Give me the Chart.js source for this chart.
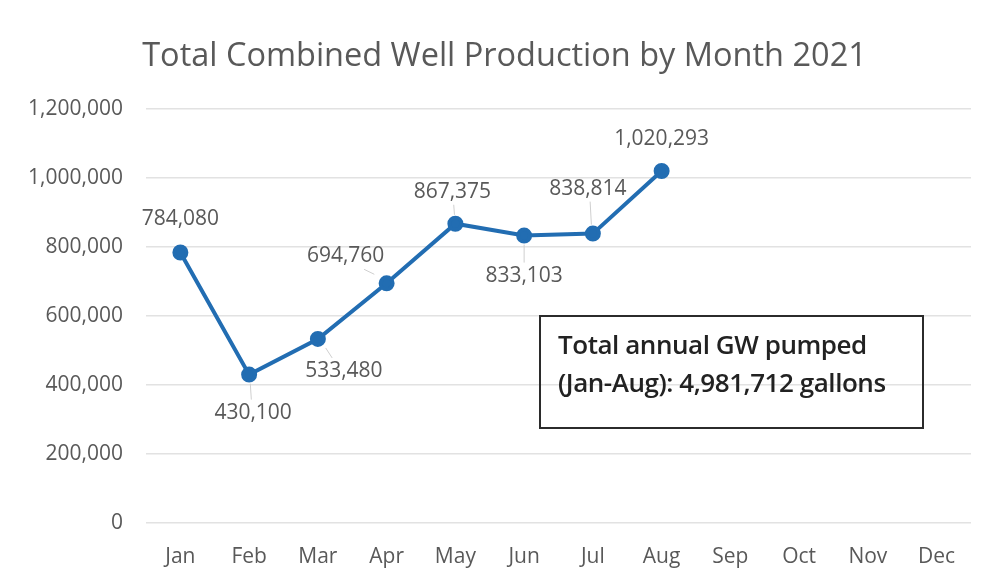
<!DOCTYPE html>
<html><head><meta charset="utf-8">
<script src="https://cdn.jsdelivr.net/npm/chart.js@4.4.0/dist/chart.umd.min.js"></script>
<style>
html,body{margin:0;padding:0;background:#fff;}
#wrap{position:relative;width:990px;height:582px;}
#note{position:absolute;left:539px;top:315px;width:385px;height:114px;border:2px solid #2b2b2b;box-sizing:border-box;
font-family:"Open Sans",sans-serif;font-size:26px;font-weight:600;color:#222;line-height:38px;padding:8px 0 0 17px;letter-spacing:-0.45px;white-space:nowrap;}
</style></head><body>
<div id="wrap"><canvas id="c" width="990" height="582"></canvas>
<div id="note">Total annual GW pumped<br>(Jan-Aug): 4,981,712 gallons</div></div>
<script>
const months = ["Jan","Feb","Mar","Apr","May","Jun","Jul","Aug","Sep","Oct","Nov","Dec"];
const production = [784080,430100,533480,694760,867375,833103,838814,1020293,null,null,null,null];
const yTicks = [0,200000,400000,600000,800000,1000000,1200000];
const titleText = "Total Combined Well Production by Month 2021";
// label offsets (px) relative to each point: style only
const labelOffsets = [[0,-33],[4,38],[26,32],[-41,-27],[-3,-32],[0,40],[-5,-45],[0,-32]];
const leaderLines = [false,true,true,true,true,true,true,false];

const fmt = v => v.toLocaleString("en-US");

const labelPlugin = {
  id:"dl",
  afterLayout(chart){
    // centre the title over the plot region rather than the whole canvas
    if(chart.titleBlock){ chart.titleBlock.left = 38; chart.titleBlock.right = chart.chartArea.right; }
  },
  afterDatasetsDraw(chart){
    const ctx = chart.ctx;
    const meta = chart.getDatasetMeta(0);
    ctx.save();
    ctx.font = '21px "Open Sans", sans-serif';
    ctx.fillStyle = "#595959";
    ctx.textAlign = "center";
    ctx.textBaseline = "middle";
    meta.data.forEach((pt,i)=>{
      const v = production[i];
      if(v==null) return;
      const [dx,dy] = labelOffsets[i];
      const lx = pt.x+dx, ly = pt.y+dy;
      if(leaderLines[i]){
        ctx.strokeStyle = "#cfcfcf"; ctx.lineWidth = 1;
        ctx.beginPath();
        const sy = Math.sign(dy);
        ctx.moveTo(pt.x+dx*0.3, pt.y+sy*9);
        ctx.lineTo(pt.x+dx*0.55, ly - sy*13);
        ctx.stroke();
      }
      ctx.fillText(fmt(v), lx, ly);
    });
    ctx.restore();
  }
};

new Chart(document.getElementById("c"),{
  type:"line",
  data:{labels:months,datasets:[{data:production,borderColor:"#226db2",backgroundColor:"#226db2",
    borderWidth:4,pointRadius:6,pointBackgroundColor:"#226db2",pointBorderColor:"#226db2",tension:0,spanGaps:false}]},
  options:{
    responsive:false,animation:false,
    layout:{padding:{left:0,right:19,top:0,bottom:13}},
    plugins:{legend:{display:false},tooltip:{enabled:false},
      title:{display:true,text:titleText,color:"#595959",font:{family:"Open Sans",size:32.5,weight:"normal"},padding:{top:37,bottom:33}}},
    scales:{
      x:{offset:true,grid:{display:false},border:{display:false},
        ticks:{color:"#595959",font:{family:"Open Sans",size:21},padding:13},
        afterFit(s){s.height=46;}},
      y:{min:0,max:1200000,border:{display:false},
        grid:{color:"#e2e2e2",lineWidth:1.5,drawTicks:false},
        afterBuildTicks(s){s.ticks=yTicks.map(v=>({value:v}));},
        ticks:{color:"#595959",font:{family:"Open Sans",size:21},padding:23,callback:v=>fmt(v)},
        afterFit(s){s.width=146;}}
    }
  },
  plugins:[labelPlugin]
});
</script></body></html>
